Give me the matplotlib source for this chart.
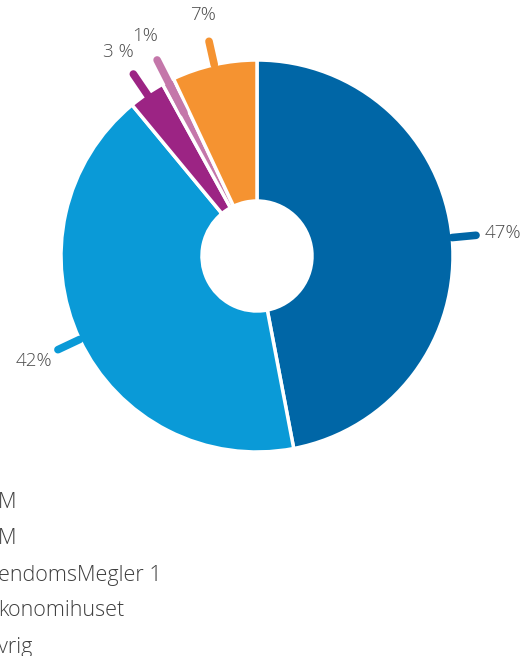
import matplotlib.pyplot as plt
import numpy as np

# data
shares = [47, 42, 3, 1, 7]
colors = ['#0066a6', '#0a9ad7', '#9c2484', '#c477aa', '#f59331']
labels = ['47%', '42%', '3 %', '1%', '7%']
legend_names = ['M', 'M', 'endomsMegler 1', 'konomihuset', 'vrig']

plt.rcParams['font.family'] = ['Open Sans', 'DejaVu Sans']

fig = plt.figure(figsize=(5.27, 6.56), dpi=100)
ax = fig.add_axes([0, 0, 1, 1])

cx, cy = 257, 400
R = 196
hole = 55

wedges, _ = ax.pie(shares, colors=colors, startangle=90, counterclock=False,
                   center=(cx, cy), radius=R, frame=True,
                   wedgeprops=dict(width=R - hole, edgecolor='white', linewidth=2.5))
ax.set_xlim(0, 527)
ax.set_ylim(0, 656)
ax.set_aspect('equal')
ax.axis('off')

# leader lines and labels
inset = [0, 0, 6, 35, 0]
for w, lab, col, ins in zip(wedges, labels, colors, inset):
    ang = np.deg2rad((w.theta1 + w.theta2) / 2)
    c, s = np.cos(ang), np.sin(ang)
    r0 = R - ins
    r1 = R + 24
    ax.plot([cx + r0 * c, cx + r1 * c], [cy + r0 * s, cy + r1 * s], color=col,
            lw=5.5, solid_capstyle='round')
    rt = r1 + 27
    ax.text(cx + rt * c, cy + rt * s, lab, ha='center', va='center',
            fontsize=13.5, color='#4d4d4d', fontweight='light')

# legend (cut at left edge)
for i, name in enumerate(legend_names):
    ax.text(-2, 656 - 503 - i * 36, name, ha='left', va='center',
            fontsize=15.5, color='#3f3f3f', fontweight='light')

fig.savefig('out.png', dpi=100)
